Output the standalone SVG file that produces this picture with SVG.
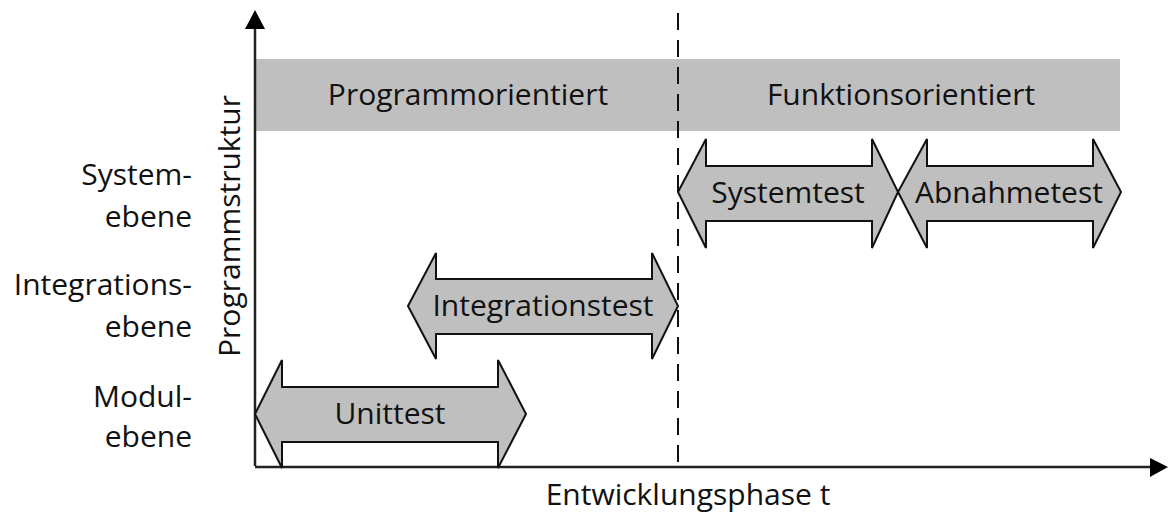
<svg xmlns="http://www.w3.org/2000/svg" width="1169" height="518" viewBox="0 0 1169 518">
<style>
text{font-family:"Open Sans","Liberation Sans",sans-serif;font-size:30px;fill:#111}
.lab{text-anchor:end}
.c{text-anchor:middle}
.arr{fill:#bfbfbf;stroke:#111;stroke-width:2;stroke-linejoin:miter}
.ax{stroke:#222;stroke-width:2.5;fill:none}
</style>
<rect width="1169" height="518" fill="#fff"/>
<g id="band">
<rect x="255" y="59" width="865" height="72" fill="#bfbfbf"/>
<text class="c" x="468" y="105">Programmorientiert</text>
<text class="c" x="901" y="105">Funktionsorientiert</text>
</g>
<g id="connectors">
<line class="ax" x1="255" y1="466" x2="255" y2="26"/>
<polygon points="255,10 265,29 245,29" fill="#000"/>
<line class="ax" x1="255" y1="467" x2="1152" y2="467"/>
<polygon points="1168,467 1150,458 1150,477" fill="#000"/>
<line x1="678" y1="13" x2="678" y2="466" stroke="#111" stroke-width="2" stroke-dasharray="17,10"/>
</g>
<g id="labels">
<text class="lab" x="192" y="185">System-</text>
<text class="lab" x="192" y="227">ebene</text>
<text class="lab" x="192" y="295">Integrations-</text>
<text class="lab" x="192" y="337">ebene</text>
<text class="lab" x="192" y="407">Modul-</text>
<text class="lab" x="192" y="447">ebene</text>
<text class="c" transform="translate(240,226) rotate(-90)">Programmstruktur</text>
<text class="c" x="688" y="505">Entwicklungsphase t</text>
</g>
<g id="unittest">
<polygon class="arr" points="255,414 282,360 282,387 498,387 498,360 526,414 498,468 498,442 282,442 282,468"/>
<text class="c" x="390" y="424">Unittest</text>
</g>
<g id="integrationstest">
<polygon class="arr" points="408,306 436,253 436,279 652,279 652,253 678,306 652,359 652,334 436,334 436,359"/>
<text class="c" x="543" y="316">Integrationstest</text>
</g>
<g id="systemtest">
<polygon class="arr" points="678,192 706,139 706,166 872,166 872,139 898,192 872,248 872,221 706,221 706,248"/>
<text class="c" x="788" y="203">Systemtest</text>
</g>
<g id="abnahmetest">
<polygon class="arr" points="898,192 927,139 927,166 1093,166 1093,139 1121,192 1093,248 1093,221 927,221 927,248"/>
<text class="c" x="1009" y="203">Abnahmetest</text>
</g>
</svg>
